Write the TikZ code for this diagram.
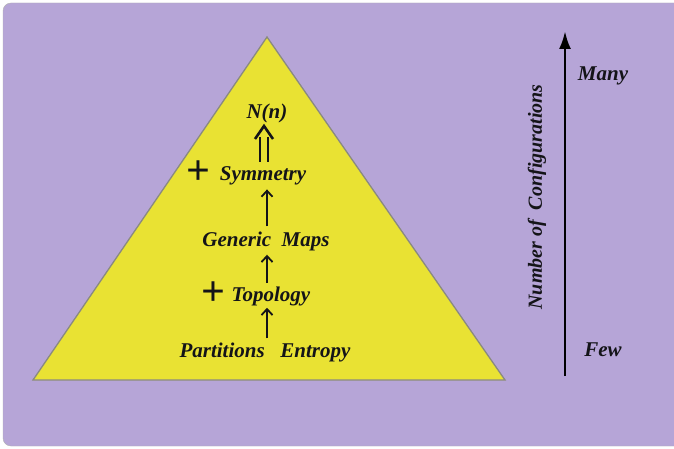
\documentclass[tikz,border=0pt]{standalone}
\usepackage{fontspec}
\setmainfont{Liberation Serif}
\usetikzlibrary{arrows.meta}
\definecolor{lavender}{HTML}{B6A5D7}
\definecolor{pyryellow}{HTML}{E9E233}
\definecolor{edgegray}{HTML}{8A8A80}
\definecolor{inkdark}{HTML}{141418}
\tikzset{
  lbl/.style={font=\fontsize{21}{24}\selectfont\bfseries\itshape, text=inkdark, inner sep=0pt},
  plus/.style={font=\fontsize{42}{44}\selectfont\bfseries, text=inkdark, inner sep=0pt},
  uparrow/.style={line width=1.8pt, draw=inkdark, -{Straight Barb[length=6pt,width=11pt,line width=1.8pt]}},
  axis/.style={line width=2.8pt, draw=black, -{Latex[length=18pt,width=12pt]}}
}
\begin{document}
\begin{tikzpicture}[x=1pt,y=-1pt]
\useasboundingbox (0,0) rectangle (674,449);
\fill[white] (0,0) rectangle (674,449);
% panel
\draw[fill=lavender, draw=gray!60, rounded corners=8pt] (3,3) rectangle (700,446);
% pyramid
\draw[fill=pyryellow, draw=edgegray, line width=1.3pt, line join=miter] (267,37) -- (505,380) -- (33,380) -- cycle;
\coordinate (apex) at (267,37);
% levels
\node[lbl] (nn) at (267,113) {N(n)};
\node[lbl] (sym) at (263,176) {Symmetry};
\node[plus] (symplus) at (198,173) {+};
\node[lbl] (gen) at (266,241) {Generic\ \ Maps};
\node[lbl] (topo) at (271,296) {Topology};
\node[plus] (topoplus) at (213,294) {+};
\node[lbl] (part) at (265,352) {Partitions\ \ \ Entropy};
% double-shafted arrow into N(n)
\coordinate (dl) at (260,162);
\coordinate (dr) at (268,162);
\coordinate (dtop) at (264,126);
\draw[line width=1.8pt, draw=inkdark] (dl) -- ([yshift=-11pt]dl |- dtop) (dr) -- ([yshift=-11pt]dr |- dtop);
\draw[line width=2.6pt, draw=inkdark, line join=miter] ([shift={(-9,13)}]dtop) -- (dtop) -- ([shift={(9,13)}]dtop);
% single arrows between levels
\draw[uparrow, shorten <=5pt, shorten >=4pt] (gen.north -| apex) -- (sym.south -| apex);
\draw[uparrow, shorten <=3pt, shorten >=4pt] (topo.north -| apex) -- (gen.south -| apex);
\draw[uparrow, shorten <=4pt, shorten >=2pt] (part.north -| apex) -- (topo.south -| apex);
% configuration axis
\coordinate (few) at (565,376);
\coordinate (many) at (565,31);
\draw[axis] (few) -- (many);
\node[lbl] (manylbl) at (603,76) {Many};
\node[lbl] (fewlbl) at (603,350) {Few};
\node[lbl, font=\fontsize{20}{24}\selectfont\bfseries\itshape, rotate=90] (axlbl) at (537,197) {Number of\ \ Configurations};
\end{tikzpicture}
\end{document}
